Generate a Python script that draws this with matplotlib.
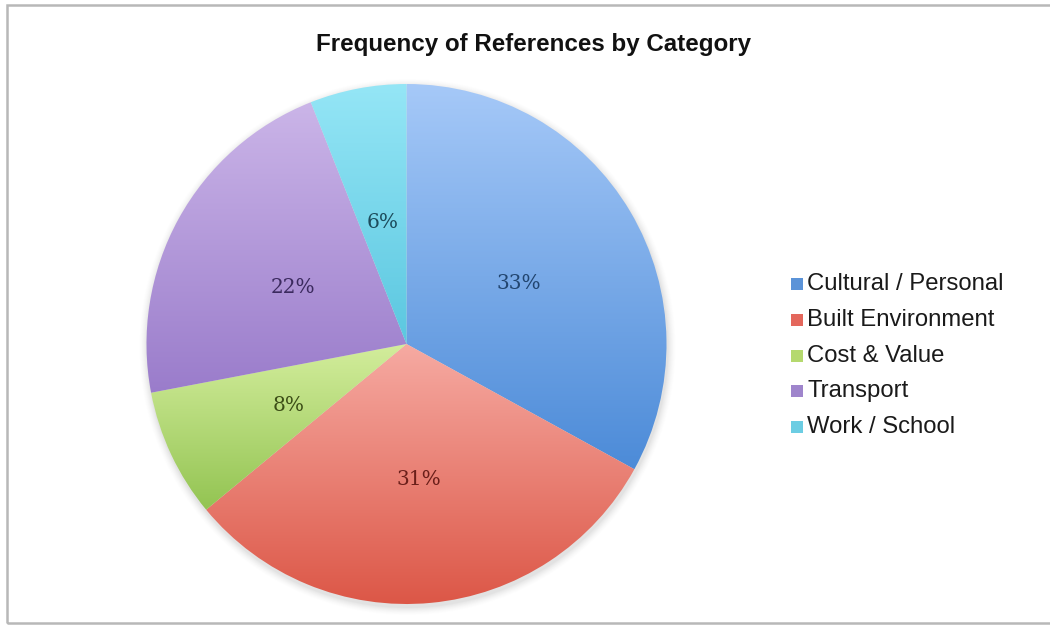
import numpy as np
import matplotlib
matplotlib.use("Agg")
import matplotlib.pyplot as plt
from matplotlib.patches import Rectangle, Circle
from matplotlib.colors import LinearSegmentedColormap

# Data
categories = ["Cultural / Personal", "Built Environment", "Cost & Value", "Transport", "Work / School"]
shares = [33, 31, 8, 22, 6]

# Gradient colours per slice (light top -> darker bottom), legend swatch and label colour
top_colors = ["#a6c9f8", "#f6aaa2", "#d3ed9c", "#cbb5e8", "#95e6f6"]
bottom_colors = ["#4c8bd8", "#dc5646", "#93c452", "#9a7ccb", "#5bc7e0"]
swatch_colors = ["#5b93d8", "#e4675c", "#b5d96e", "#9f85cc", "#6ccde3"]
label_colors = ["#22456f", "#6b1f1a", "#3c4e17", "#3b2a5e", "#1d4c5c"]

W, H = 1050, 627
fig = plt.figure(figsize=(W / 100, H / 100), dpi=100)
ax = fig.add_axes([0, 0, 1, 1])

cx, cy, R = 406.5, H - 344, 260

# soft shadow around the pie
for k, a in zip(range(8, 0, -1), [0.01, 0.015, 0.02, 0.025, 0.03, 0.035, 0.04, 0.05]):
    ax.add_patch(Circle((cx + 1, cy - 3), R + k, facecolor="#808080", edgecolor="none",
                        alpha=a, zorder=0))

wedges, texts, autotexts = ax.pie(
    shares, center=(cx, cy), radius=R, startangle=90, counterclock=False,
    autopct="%1.0f%%", pctdistance=0.5, labels=None,
    wedgeprops=dict(linewidth=0, edgecolor="none"),
    textprops=dict(fontsize=14.5, family=["DejaVu Serif"]),
)

# fill each wedge with its own vertical gradient
for w, c0, c1 in zip(wedges, top_colors, bottom_colors):
    w.set_facecolor("none")
    path = w.get_path()
    verts = w.get_patch_transform().transform(path.vertices)
    x0, x1 = verts[:, 0].min(), verts[:, 0].max()
    y0, y1 = verts[:, 1].min(), verts[:, 1].max()
    cmap = LinearSegmentedColormap.from_list("g", [c1, c0])
    grad = np.linspace(0, 1, 256).reshape(-1, 1)
    im = ax.imshow(grad, cmap=cmap, extent=(x0, x1, y0, y1), origin="lower",
                   aspect="auto", zorder=1, interpolation="bilinear")
    im.set_clip_path(w)

for t, c in zip(autotexts, label_colors):
    t.set_color(c)
    t.set_zorder(3)
    px, py = t.get_position()
    t.set_position((px, py - 6))

ax.set_xlim(0, W)
ax.set_ylim(0, H)
ax.set_aspect("auto")
ax.axis("off")

# Title
ax.text(534, H - 44, "Frequency of References by Category", ha="center", va="center",
        fontsize=17.4, fontweight="bold", family=["Liberation Sans", "DejaVu Sans"],
        color="#111111")

# Legend
ly0, dy = 284, 35.8
for i, (name, col) in enumerate(zip(categories, swatch_colors)):
    y = H - (ly0 + i * dy)
    ax.add_patch(Rectangle((791, y - 6), 12, 12, facecolor=col, edgecolor="none", zorder=3))
    ax.text(807, y, name, ha="left", va="center", fontsize=17.2,
            family=["Liberation Sans", "DejaVu Sans"], color="#1a1a1a")

# Outer frame
ax.add_patch(Rectangle((7, H - 623), 1100, 618, facecolor="none", edgecolor="#b8b8b8",
                       linewidth=1.8, zorder=5, clip_on=False))

fig.savefig("out.png", dpi=100)
